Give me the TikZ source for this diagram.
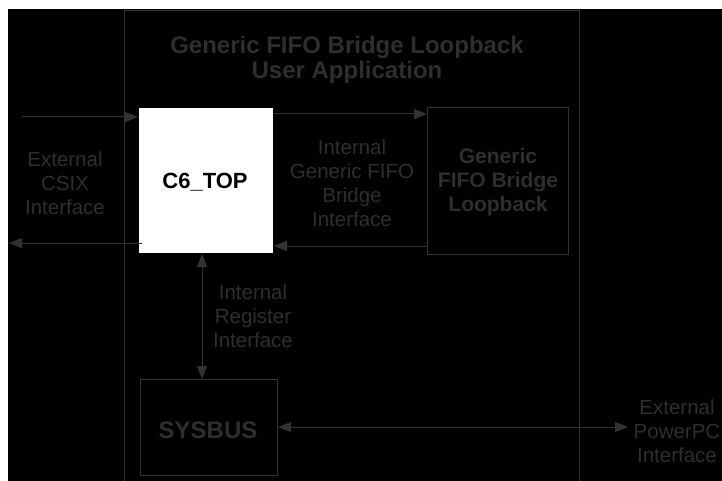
\documentclass[tikz,border=0pt]{standalone}
\usepackage{fontspec}
\setmainfont{Liberation Sans}
\usetikzlibrary{arrows.meta}
\definecolor{ink}{RGB}{46,46,46}
\definecolor{linec}{RGB}{50,50,50}
\begin{document}
\begin{tikzpicture}[x=1pt,y=-1pt,
  lbl/.style={text=ink,align=center,font=\fontsize{20.5}{24}\selectfont,inner sep=0pt},
  blbl/.style={text=ink,align=center,font=\fontsize{21}{24}\selectfont\bfseries,inner sep=0pt},
  blk/.style={draw=linec,line width=1pt,inner sep=0pt,anchor=north west},
  arr/.style={draw=linec,line width=1pt,-{Triangle[length=13pt,width=10pt]}},
  darr/.style={draw=linec,line width=1pt,{Triangle[length=13pt,width=10pt]}-{Triangle[length=13pt,width=10pt]}}]
\useasboundingbox (0,0) rectangle (722,481);
\clip (0,0) rectangle (722,481);
\fill[white] (0,0) rectangle (722,481);
\fill[black] (8,9) rectangle (722,481);
% outer application box
\draw[linec,line width=1pt] (124.5,500) -- (124.5,10.5) -- (579,10.5) -- (579,500);
\node[text=ink,align=center,font=\fontsize{24}{25}\selectfont\bfseries,inner sep=0pt] (title) at (347,60) {Generic FIFO Bridge Loopback\\User Application};
% blocks
\node[blk,fill=white,draw=black,minimum width=135pt,minimum height=146pt] (c6) at (138,107) {};
\node[font=\fontsize{22}{24}\selectfont\bfseries,text=black,inner sep=0pt] (c6t) at (205,182) {C6\_TOP};
\node[blk,minimum width=141pt,minimum height=147pt] (gen) at (427,107) {};
\node[blbl] (gent) at (498,182) {Generic\\FIFO Bridge\\Loopback};
\node[blk,minimum width=137pt,minimum height=96pt] (sys) at (140,379) {};
\node[font=\fontsize{24}{24}\selectfont\bfseries,text=ink,inner sep=0pt] (syst) at (208,430) {SYSBUS};
% labels
\node[lbl] (csix) at (65,183) {External\\CSIX\\Interface};
\node[lbl] (igf) at (352,183) {Internal\\Generic FIFO\\Bridge\\Interface};
\node[lbl] (ireg) at (253,316) {Internal\\Register\\Interface};
\node[lbl] (ppc) at (677,431) {External\\PowerPC\\Interface};
% connectors
\coordinate (csixin) at (22,117);
\coordinate (csixout) at (9,243);
\coordinate (ppcend) at (628,427);
\draw[arr] (csixin) -- (c6.west |- csixin);
\draw[arr] ([xshift=4pt]c6.west |- csixout) -- (csixout);
\draw[arr] (c6.east |- 0,114) -- (gen.west |- 0,114);
\draw[arr] (gen.west |- 0,246) -- (c6.east |- 0,246);
\draw[darr] (c6.south -| 202,0) -- (sys.north -| 202,0);
\draw[darr] (sys.east |- ppcend) -- (ppcend);
\end{tikzpicture}
\end{document}
